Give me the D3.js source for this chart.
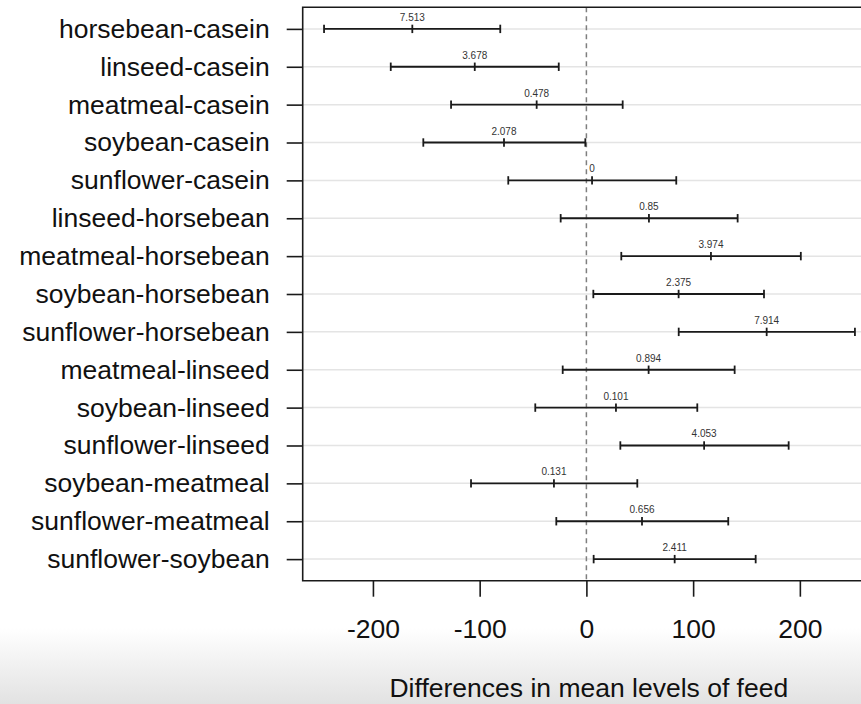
<!DOCTYPE html>
<html>
<head>
<meta charset="utf-8">
<script src="https://cdn.jsdelivr.net/npm/d3@7"></script>
<style>
  html, body { margin: 0; padding: 0; background: #fff; overflow: hidden; }
  svg { display: block; font-family: "Liberation Sans", Arial, Helvetica, sans-serif; }
</style>
</head>
<body>
<svg id="chart" width="861" height="704"></svg>
<script>
// Pairwise comparisons of feed types (chickwts)
const comparisons = [
  "horsebean-casein", "linseed-casein", "meatmeal-casein", "soybean-casein",
  "sunflower-casein", "linseed-horsebean", "meatmeal-horsebean", "soybean-horsebean",
  "sunflower-horsebean", "meatmeal-linseed", "soybean-linseed", "sunflower-linseed",
  "soybean-meatmeal", "sunflower-meatmeal", "sunflower-soybean"
];
const diffs = [-163.1, -104.6, -46.6, -77.2, 5.3, 58.6, 116.7, 86.4, 168.9, 58.3, 27.7, 110.3, -30.4, 52.1, 82.7];
const lower = [-245.8, -183.3, -126.8, -152.8, -73.2, -24.1, 32.7, 6.5, 86.5, -22.2, -47.9, 31.8, -108.1, -28.2, 6.8];
const upper = [-80.7, -25.9, 34.0, -1.0, 84.2, 141.7, 200.9, 166.4, 251.6, 138.9, 103.9, 189.5, 47.7, 132.9, 158.6];
const annotations = ["7.513", "3.678", "0.478", "2.078", "0", "0.85", "3.974", "2.375", "7.914",
                     "0.894", "0.101", "4.053", "0.131", "0.656", "2.411"];
const xTicks = [-200, -100, 0, 100, 200];
const xTitle = "Differences in mean levels of feed";

const svg = d3.select("#chart");
const W = 861, H = 704;

// plot frame (right edge runs past the visible area)
const plot = { left: 302.7, right: 875, top: 7.3, bottom: 580.7 };

const x = d3.scaleLinear().domain([-265.8, 270.4]).range([plot.left, plot.right]);
const y = d3.scaleLinear().domain([-0.57, comparisons.length - 1 + 0.57]).range([plot.top, plot.bottom]);

// soft grey band at the bottom
const defs = svg.append("defs");
const grad = defs.append("linearGradient").attr("id", "fade").attr("x1", 0).attr("y1", 0).attr("x2", 0).attr("y2", 1);
grad.append("stop").attr("offset", 0).attr("stop-color", "#ffffff");
grad.append("stop").attr("offset", 1).attr("stop-color", "#e2e2e2");
svg.append("rect").attr("x", 0).attr("y", 628).attr("width", W).attr("height", H - 628).attr("fill", "url(#fade)");

// horizontal guide lines
svg.append("g").selectAll("line").data(comparisons).join("line")
  .attr("x1", plot.left).attr("x2", plot.right)
  .attr("y1", (d, i) => y(i)).attr("y2", (d, i) => y(i))
  .attr("stroke", "#e4e4e4").attr("stroke-width", 1.5);

// reference line at zero
svg.append("line")
  .attr("x1", x(0)).attr("x2", x(0))
  .attr("y1", plot.top).attr("y2", plot.bottom)
  .attr("stroke", "#7f7f7f").attr("stroke-width", 1.5)
  .attr("stroke-dasharray", "5,4");

// confidence intervals
const bars = svg.append("g").selectAll("g").data(comparisons).join("g");
const cap = 4.2;
bars.append("line")
  .attr("x1", (d, i) => x(lower[i])).attr("x2", (d, i) => x(upper[i]))
  .attr("y1", (d, i) => y(i)).attr("y2", (d, i) => y(i))
  .attr("stroke", "#1a1a1a").attr("stroke-width", 1.8);
[lower, diffs, upper].forEach(arr => {
  bars.append("line")
    .attr("x1", (d, i) => x(arr[i])).attr("x2", (d, i) => x(arr[i]))
    .attr("y1", (d, i) => y(i) - cap).attr("y2", (d, i) => y(i) + cap)
    .attr("stroke", "#1a1a1a").attr("stroke-width", 1.8);
});
bars.append("text")
  .attr("x", (d, i) => x(diffs[i]))
  .attr("y", (d, i) => y(i) - 8)
  .attr("text-anchor", "middle")
  .attr("font-size", "10px")
  .attr("fill", "#333")
  .text((d, i) => annotations[i]);

// frame: left, top, bottom
svg.append("path")
  .attr("d", `M${plot.right},${plot.top}H${plot.left}V${plot.bottom}H${plot.right}`)
  .attr("fill", "none").attr("stroke", "#1a1a1a").attr("stroke-width", 1.6);

// y axis
const yAxis = d3.axisLeft(y).tickValues(d3.range(comparisons.length))
  .tickFormat(i => comparisons[i]).tickSize(16).tickPadding(17);
const gy = svg.append("g").attr("transform", `translate(${plot.left},0)`).call(yAxis);
gy.select(".domain").remove();
gy.selectAll(".tick line").attr("stroke", "#1a1a1a").attr("stroke-width", 1.6);
gy.selectAll(".tick text").attr("font-size", "26.5px").attr("fill", "#111")
  .attr("font-family", "Liberation Sans, Arial, sans-serif");

// x axis (plain hyphen for negative numbers)
const xAxis = d3.axisBottom(x).tickValues(xTicks).tickFormat(d => String(d)).tickSize(16).tickPadding(22);
const gx = svg.append("g").attr("transform", `translate(0,${plot.bottom})`).call(xAxis);
gx.select(".domain").remove();
gx.selectAll(".tick line").attr("stroke", "#1a1a1a").attr("stroke-width", 1.6);
gx.selectAll(".tick text").attr("font-size", "26.5px").attr("fill", "#111")
  .attr("font-family", "Liberation Sans, Arial, sans-serif");

// x axis title
svg.append("text")
  .attr("x", (plot.left + plot.right) / 2)
  .attr("y", 697)
  .attr("text-anchor", "middle")
  .attr("font-size", "26.5px")
  .attr("fill", "#111")
  .text(xTitle);
</script>
</body>
</html>
